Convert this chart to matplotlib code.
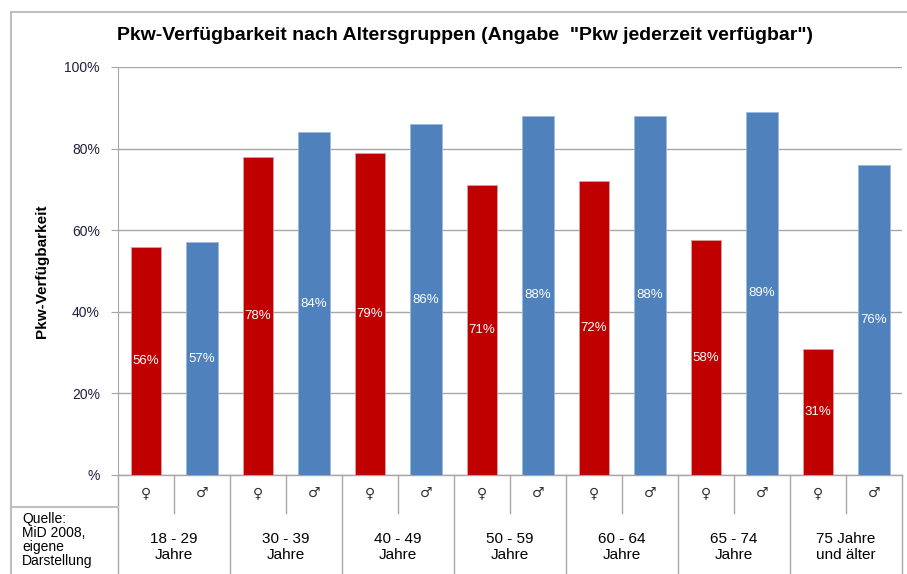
# Pkw-Verfügbarkeit nach Altersgruppen
import matplotlib.pyplot as plt
from matplotlib.lines import Line2D

plt.rcParams['font.family'] = ['Liberation Sans', 'DejaVu Sans']

# Daten
gruppen = ["18 - 29\nJahre", "30 - 39\nJahre", "40 - 49\nJahre", "50 - 59\nJahre",
           "60 - 64\nJahre", "65 - 74\nJahre", "75 Jahre\nund älter"]
frauen = [56, 78, 79, 71, 72, 57.5, 31]
maenner = [57, 84, 86, 88, 88, 89, 76]
frauen_labels = ["56%", "78%", "79%", "71%", "72%", "58%", "31%"]
maenner_labels = ["57%", "84%", "86%", "88%", "88%", "89%", "76%"]
y_ticks = [0, 20, 40, 60, 80, 100]
y_ticklabels = ["%", "20%", "40%", "60%", "80%", "100%"]

W, H = 907, 574
fig = plt.figure(figsize=(W / 100, H / 100), dpi=100)

# Achsen in Pixelkoordinaten
x0, x1, ytop, ybase = 118, 902, 67, 475
ax = fig.add_axes([x0 / W, (H - ybase) / H, (x1 - x0) / W, (ybase - ytop) / H])

rot = "#C00000"
blau = "#4F81BD"
grau = "#A6A6A6"

n = len(gruppen)
xs_f = [2 * i + 0.5 for i in range(n)]
xs_m = [2 * i + 1.5 for i in range(n)]
ax.bar(xs_f, frauen, width=0.55, color=rot, edgecolor="#D9A0A0", linewidth=0.6, zorder=3)
ax.bar(xs_m, maenner, width=0.56, color=blau, edgecolor="#9DB8DA", linewidth=0.6, zorder=3)

for x, v, t in zip(xs_f, frauen, frauen_labels):
    ax.text(x, v / 2, t, ha="center", va="center", color="white", fontsize=9.5, zorder=4)
for x, v, t in zip(xs_m, maenner, maenner_labels):
    ax.text(x, v / 2, t, ha="center", va="center", color="white", fontsize=9.5, zorder=4)

ax.set_xlim(0, 2 * n)
ax.set_ylim(0, 100)
ax.set_yticks(y_ticks)
ax.set_yticklabels(y_ticklabels, fontsize=10, color="#1F1F3F")
ax.set_xticks([])
ax.yaxis.grid(True, color=grau, linewidth=1, zorder=0)
ax.set_axisbelow(True)
for s in ["top", "right", "bottom"]:
    ax.spines[s].set_visible(False)
ax.spines["left"].set_color(grau)
ax.tick_params(axis="y", length=5, color=grau, pad=8)
ax.set_ylabel("Pkw-Verfügbarkeit", fontsize=11, fontweight="bold")
ax.yaxis.set_label_coords((49 - x0) / (x1 - x0), 0.5)

# Kategorietabelle unter der Achse (x in Daten, y in Achsenanteil)
tr = ax.get_xaxis_transform()
px = 1 / (ybase - ytop)
for k in range(0, 2 * n + 1, 2):
    ax.add_line(Line2D([k, k], [0, -(H - ybase) * px], transform=tr, color=grau,
                       linewidth=1, clip_on=False))
for k in range(1, 2 * n, 2):
    ax.add_line(Line2D([k, k], [0, -(513 - ybase) * px], transform=tr, color=grau,
                       linewidth=1, clip_on=False))
ax.add_line(Line2D([0, 2 * n], [0, 0], transform=tr, color=grau, linewidth=1, clip_on=False))

for i, g in enumerate(gruppen):
    ax.text(xs_f[i], -(493 - ybase) * px, "♀", transform=tr, ha="center", va="center",
            fontsize=10, color="#333333", family=["DejaVu Sans"])
    ax.text(xs_m[i], -(493 - ybase) * px, "♂", transform=tr, ha="center", va="center",
            fontsize=10, color="#333333", family=["DejaVu Sans"])
    ax.text(2 * i + 1, -(547 - ybase) * px, g, transform=tr, ha="center", va="center",
            fontsize=11, linespacing=1.2)

# Rahmen und Quellenkasten
fig.add_artist(Line2D([11 / W, 1], [1 - 12 / H, 1 - 12 / H], color="#BFBFBF", linewidth=1.5))
fig.add_artist(Line2D([11 / W, 11 / W], [0, 1 - 12 / H], color="#BFBFBF", linewidth=1.5))
fig.add_artist(Line2D([11 / W, x0 / W], [1 - 507 / H, 1 - 507 / H], color="#BFBFBF", linewidth=1.5))
fig.text(22 / W, 1 - 512 / H, "Quelle:\nMiD 2008,\neigene\nDarstellung", ha="left", va="top",
         fontsize=10, linespacing=1.0)

fig.text(465 / W, 1 - 35 / H,
         'Pkw-Verfügbarkeit nach Altersgruppen (Angabe  "Pkw jederzeit verfügbar")',
         ha="center", va="center", fontsize=14, fontweight="bold")

plt.savefig("out.png", dpi=100)
plt.close()
